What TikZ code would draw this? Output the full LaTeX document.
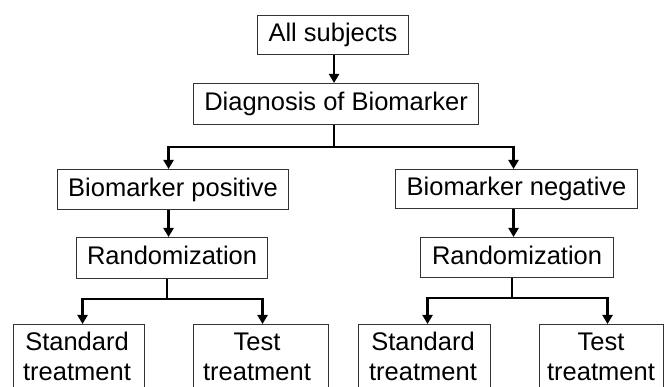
\documentclass[tikz,border=0pt]{standalone}
\usepackage{fontspec}
\setmainfont{Liberation Sans}
\usetikzlibrary{arrows.meta,calc}
\begin{document}
\begin{tikzpicture}[x=1pt,y=-1pt,
  box/.style={draw=black!80, line width=1.1pt, inner sep=0pt, anchor=north west,
    font=\fontsize{25.5}{30}\selectfont, text height=19pt, text depth=5.4pt},
  conn/.style={line width=2.8pt, black},
  arr/.style={conn, -{Triangle[length=9pt,width=10pt]}},
  txt/.style={font=\fontsize{25.5}{30}\selectfont, align=center, anchor=base, inner sep=0pt}]
\useasboundingbox (0,0) rectangle (664,387);
\clip (0,0) rectangle (664,387);
% boxes
\node[box, minimum width=151, minimum height=39] (all) at (257,15) {All subjects};
\node[box, minimum width=285, minimum height=41] (diag) at (193,83) {Diagnosis of Biomarker};
\node[box, minimum width=231, minimum height=40] (pos) at (57,169) {Biomarker positive};
\node[box, minimum width=242, minimum height=39] (neg) at (395,169) {Biomarker negative};
\node[box, minimum width=191, minimum height=41] (randL) at (76,237) {Randomization};
\node[box, minimum width=193, minimum height=40] (randR) at (420,237) {Randomization};
\node[box, minimum width=131, minimum height=90] (stdL) at (13,324) {};
\node[box, minimum width=135, minimum height=90] (testL) at (193,324) {};
\node[box, minimum width=132, minimum height=90] (stdR) at (358,324) {};
\node[box, minimum width=124, minimum height=90] (testR) at (539,324) {};
% texts of bottom boxes (anchor = baseline of last line)
\node[txt] (tstdL) at (77,380) {Standard\\treatment};
\node[txt] (ttestL) at (257,380) {Test\\treatment};
\node[txt] (tstdR) at (423,380) {Standard\\treatment};
\node[txt] (ttestR) at (601,380) {Test\\treatment};
% junctions
\coordinate (j1) at (334,147);
\coordinate (j2) at (167,299);
\coordinate (j3) at (512,298);
% connectors
\draw[arr] ([xshift=1pt]all.south) -- ([xshift=1pt]all.south |- diag.north);
\draw[conn] (j1 |- diag.south) -- (j1);
\draw[arr] (j1) -| ([xshift=-4.5pt]pos.north);
\draw[arr] (j1) -| ([xshift=-3pt]neg.north);
\draw[arr] ([xshift=-4.5pt]pos.south) -- ([xshift=-4.5pt]pos.south |- randL.north);
\draw[arr] ([xshift=-3pt]neg.south) -- ([xshift=-3pt]neg.south |- randR.north);
\draw[conn] (j2 |- randL.south) -- (j2);
\draw[arr] (j2) -| ([xshift=3.5pt]stdL.north);
\draw[arr] (j2) -| ([xshift=1.5pt]testL.north);
\draw[conn] (j3 |- randR.south) -- (j3);
\draw[arr] (j3) -| ([xshift=3pt]stdR.north);
\draw[arr] (j3) -| ([xshift=6pt]testR.north);
\end{tikzpicture}
\end{document}
